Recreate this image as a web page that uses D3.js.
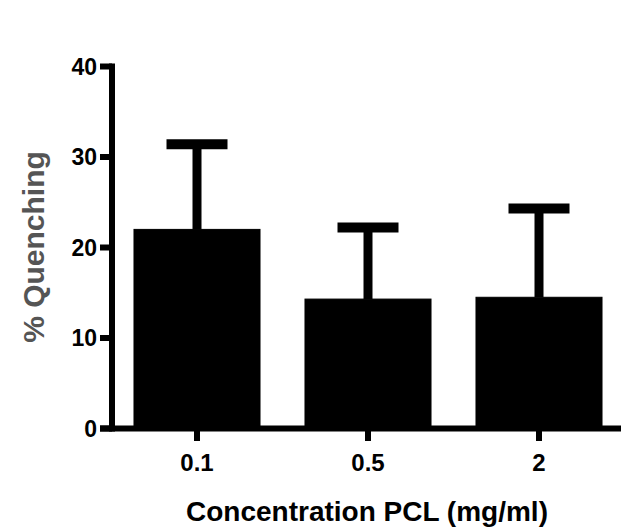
<!DOCTYPE html>
<html><head><meta charset="utf-8">
<script src="https://cdn.jsdelivr.net/npm/d3@7"></script>
<style>body{margin:0;background:#fff}svg{display:block}</style>
</head><body><svg id="c" width="621" height="527"></svg>
<script>
const categories = ["0.1", "0.5", "2"];
const means = [22.0, 14.3, 14.5];
const errors = [9.4, 7.9, 9.8];
const yTicks = [0, 10, 20, 30, 40];
const yTitle = "% Quenching";
const xTitle = "Concentration PCL (mg/ml)";

const svg = d3.select("#c");
const font = "'Liberation Sans', Arial, sans-serif";
const y = d3.scaleLinear().domain([0, 40]).range([428.5, 66.5]);
const x = d3.scaleBand().domain(categories).range([111.5, 624.5]).paddingInner(0.263).paddingOuter(0.1315);
const axisX = 112, sw = 6;

// bars
svg.selectAll("rect.bar").data(categories).enter().append("rect")
  .attr("x", d => x(d)).attr("width", x.bandwidth())
  .attr("y", (d, i) => y(means[i])).attr("height", (d, i) => y(0) - y(means[i]))
  .attr("fill", "#000").attr("stroke", "#000").attr("stroke-width", 1);

// error bars
const capW = 61;
categories.forEach((d, i) => {
  const cx = x(d) + x.bandwidth() / 2;
  svg.append("line").attr("x1", cx).attr("x2", cx)
    .attr("y1", y(means[i])).attr("y2", y(means[i] + errors[i]))
    .attr("stroke", "#000").attr("stroke-width", 9);
  svg.append("line").attr("x1", cx - capW / 2).attr("x2", cx + capW / 2)
    .attr("y1", y(means[i] + errors[i])).attr("y2", y(means[i] + errors[i]))
    .attr("stroke", "#000").attr("stroke-width", 10);
});

// y axis
svg.append("line").attr("x1", axisX).attr("x2", axisX)
  .attr("y1", y(40) - sw / 2).attr("y2", y(0) + sw / 2)
  .attr("stroke", "#000").attr("stroke-width", sw);
svg.selectAll("line.yt").data(yTicks).enter().append("line")
  .attr("x1", 100).attr("x2", axisX).attr("y1", d => y(d)).attr("y2", d => y(d))
  .attr("stroke", "#000").attr("stroke-width", sw);
svg.selectAll("text.yl").data(yTicks).enter().append("text")
  .attr("x", 97).attr("y", d => y(d)).attr("dy", "0.36em")
  .attr("text-anchor", "end").attr("font-family", font).attr("font-weight", "bold")
  .attr("font-size", 23).attr("fill", "#000").text(d => d);

// x axis
svg.append("line").attr("x1", 100).attr("x2", 621)
  .attr("y1", y(0)).attr("y2", y(0))
  .attr("stroke", "#000").attr("stroke-width", sw);
svg.selectAll("line.xt").data(categories).enter().append("line")
  .attr("x1", d => x(d) + x.bandwidth() / 2).attr("x2", d => x(d) + x.bandwidth() / 2)
  .attr("y1", y(0)).attr("y2", 441)
  .attr("stroke", "#000").attr("stroke-width", sw);
svg.selectAll("text.xl").data(categories).enter().append("text")
  .attr("x", d => x(d) + x.bandwidth() / 2).attr("y", 471)
  .attr("text-anchor", "middle").attr("font-family", font).attr("font-weight", "bold")
  .attr("font-size", 24).attr("fill", "#000").text(d => d);

// titles
svg.append("text").attr("x", 367).attr("y", 521).attr("text-anchor", "middle")
  .attr("font-family", font).attr("font-weight", "bold").attr("font-size", 28)
  .attr("fill", "#000").text(xTitle);
svg.append("text").attr("transform", "translate(44,247) rotate(-90)")
  .attr("text-anchor", "middle").attr("font-family", font).attr("font-weight", "bold")
  .attr("font-size", 30).attr("fill", "#555").text(yTitle);
</script></body></html>
